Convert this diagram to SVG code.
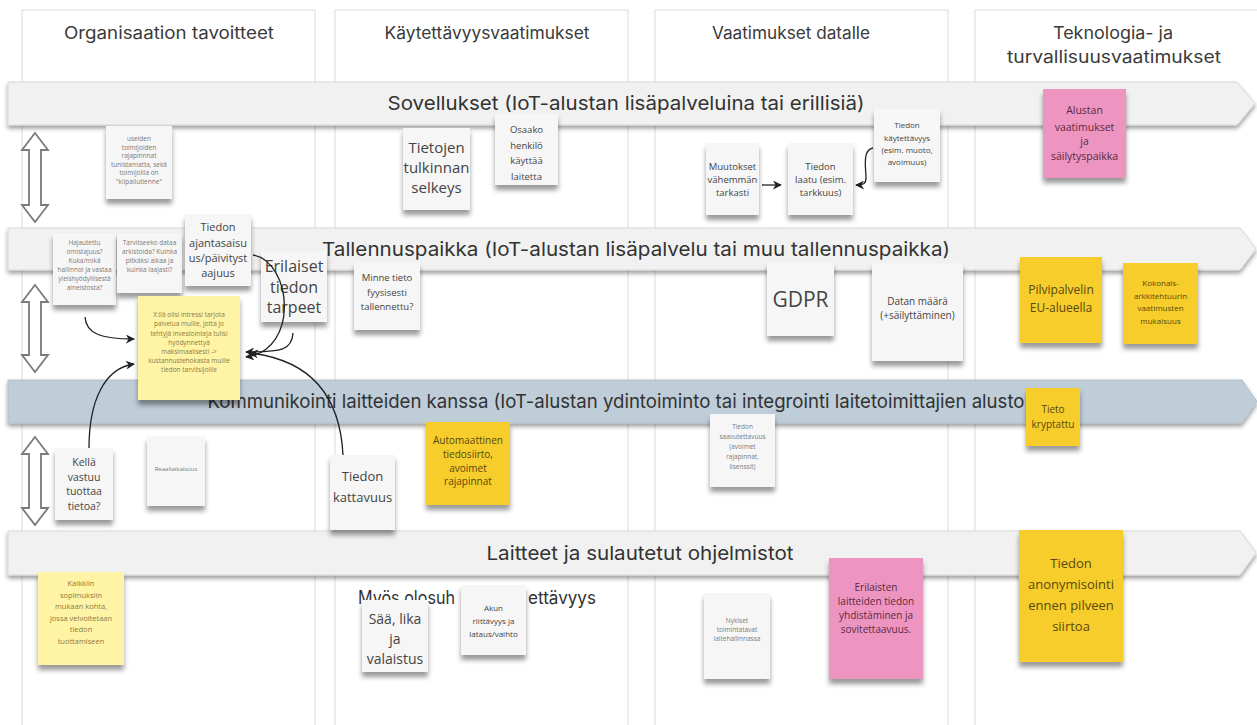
<svg xmlns="http://www.w3.org/2000/svg" width="1257" height="725" viewBox="0 0 1257 725">
<defs>
<filter id="sh" x="-20%" y="-20%" width="140%" height="150%"><feDropShadow dx="0" dy="5" stdDeviation="2.5" flood-color="#000" flood-opacity="0.4"/></filter>
<filter id="bsh" x="-5%" y="-30%" width="110%" height="180%"><feDropShadow dx="0" dy="3" stdDeviation="2" flood-color="#000" flood-opacity="0.38"/></filter>
<marker id="ah" viewBox="0 0 10 10" refX="9" refY="5" markerWidth="9" markerHeight="9" markerUnits="userSpaceOnUse" orient="auto"><path d="M0,0 L10,5 L0,10 L3,5 Z" fill="#222"/></marker>
<style>
.col{fill:#fff;stroke:#e2e2e2;stroke-width:1.2}
.band{fill:#f1f1f1;stroke:#d8d8d8;stroke-width:1;filter:url(#bsh)}
.band3{fill:#bfcdd9;stroke:#b0bfcb}
.hdr{font-family:Inter,"Open Sans",sans-serif;font-size:17px;fill:#3a3a3a;text-anchor:middle}
.bt{font-family:Inter,"Open Sans",sans-serif;font-size:19px;fill:#333;text-anchor:middle}
.s{filter:url(#sh)}
.w{fill:#f6f6f6}
.y1{fill:#fff3a6}
.y2{fill:#f6cd2c}
.pk{fill:#ee94c1}
.t{font-family:"Open Sans",sans-serif;text-anchor:middle;fill:#444}
.tl{font-family:"Open Sans",sans-serif;text-anchor:middle;fill:#7a7a7a}
.ty{font-family:"Open Sans",sans-serif;text-anchor:middle;fill:#8c7c3c}
.td{font-family:"Open Sans",sans-serif;text-anchor:middle;fill:#5a4810}
.tp{font-family:"Open Sans",sans-serif;text-anchor:middle;fill:#5a2a40}
.conn{fill:none;stroke:#222;stroke-width:1.3;marker-end:url(#ah)}
.side{fill:#fff;stroke:#7a7a7a;stroke-width:1.8}
</style>
</defs>
<rect width="1257" height="725" fill="#ffffff"/>

<g id="columns">
<rect class="col" x="22" y="10" width="293" height="730"/>
<rect class="col" x="335" y="10" width="293" height="730"/>
<rect class="col" x="655" y="10" width="293" height="730"/>
<rect class="col" x="975" y="10" width="290" height="730"/>
<text class="hdr" x="169" y="39" textLength="210" lengthAdjust="spacingAndGlyphs">Organisaation tavoitteet</text>
<text class="hdr" x="487" y="39" textLength="205" lengthAdjust="spacingAndGlyphs">Käytettävyysvaatimukset</text>
<text class="hdr" x="791" y="39" textLength="158" lengthAdjust="spacingAndGlyphs">Vaatimukset datalle</text>
<text class="hdr" x="1113" y="39" textLength="120" lengthAdjust="spacingAndGlyphs">Teknologia- ja</text>
<text class="hdr" x="1114" y="63" textLength="214" lengthAdjust="spacingAndGlyphs">turvallisuusvaatimukset</text>
</g>

<g id="bands">
<path class="band" d="M8,82 H1237 L1255,103.5 L1237,125 H8 Z"/>
<text class="bt" x="626" y="110" textLength="477" lengthAdjust="spacingAndGlyphs">Sovellukset (IoT-alustan lisäpalveluina tai erillisiä)</text>
<path class="band" d="M8,228 H1240 L1256,249 L1240,270 H8 Z"/>
<text class="bt" x="636" y="256" textLength="628" lengthAdjust="spacingAndGlyphs">Tallennuspaikka (IoT-alustan lisäpalvelu tai muu tallennuspaikka)</text>
<path class="band band3" d="M8,380 H1242 L1257,401.5 L1242,423 H8 Z"/>
<text class="bt" x="616" y="408" textLength="817" lengthAdjust="spacingAndGlyphs">Kommunikointi laitteiden kanssa (IoT-alustan ydintoiminto tai integrointi laitetoimittajien alusto</text>
<path class="band" d="M8,531 H1240 L1256,553 L1240,575 H8 Z"/>
<text class="bt" x="640" y="560" textLength="307" lengthAdjust="spacingAndGlyphs">Laitteet ja sulautetut ohjelmistot</text>
</g>

<g id="side-arrows">
<path class="side" d="M35,133 L48,150 L41,150 L41,205 L48,205 L35,222 L22,205 L29,205 L29,150 L22,150 Z"/>
<path class="side" d="M35,285 L48,302 L41,302 L41,355 L48,355 L35,372 L22,355 L29,355 L29,302 L22,302 Z"/>
<path class="side" d="M35,437 L48,454 L41,454 L41,508 L48,508 L35,525 L22,508 L29,508 L29,454 L22,454 Z"/>
</g>

<g id="free-text">
<text class="bt" x="358" y="604" style="text-anchor:start;font-size:18px" textLength="97" lengthAdjust="spacingAndGlyphs">Myös olosuh</text>
<text class="bt" x="528" y="604" style="text-anchor:start;font-size:18px" textLength="68" lengthAdjust="spacingAndGlyphs">ettävyys</text>
</g>

<g id="n-useiden"><rect class="s w" x="106" y="126" width="66" height="73"/>
<text class="tl" font-size="6.5"><tspan x="139" y="141">useiden</tspan><tspan x="139" y="149.5">toimijoiden</tspan><tspan x="139" y="158">rajapinnnat</tspan><tspan x="139" y="166.5">tunistamatta, sekä</tspan><tspan x="139" y="175">toimijoilla on</tspan><tspan x="139" y="183.5">"kilpailutienne"</tspan></text></g>

<g id="n-hajautettu"><rect class="s w" x="53" y="233" width="63" height="72"/>
<text class="tl" font-size="6.5"><tspan x="84.5" y="245">Hajautettu</tspan><tspan x="84.5" y="254">omistajuus?</tspan><tspan x="84.5" y="263">Kuka/mikä</tspan><tspan x="84.5" y="272">hallinnoi ja vastaa</tspan><tspan x="84.5" y="281">yleishyödyllisestä</tspan><tspan x="84.5" y="290">aineistosta?</tspan></text></g>

<g id="n-tarvitseeko"><rect class="s w" x="117" y="233" width="65" height="60"/>
<text class="tl" font-size="6.5"><tspan x="149.5" y="245">Tarvitseeko dataa</tspan><tspan x="149.5" y="254">arkistoida? Kuinka</tspan><tspan x="149.5" y="263">pitkäksi aikaa ja</tspan><tspan x="149.5" y="272">kuinka laajasti?</tspan></text></g>

<g id="n-ajantasaisuus"><rect class="s w" x="185" y="214" width="66" height="72"/>
<text class="t" font-size="11"><tspan x="218" y="231">Tiedon</tspan><tspan x="218" y="247">ajantasaisu</tspan><tspan x="218" y="262">us/päivityst</tspan><tspan x="218" y="277">aajuus</tspan></text></g>

<g id="n-erilaiset"><rect class="s w" x="261" y="251" width="66" height="71"/>
<text class="t" font-size="16"><tspan x="294" y="272">Erilaiset</tspan><tspan x="294" y="293">tiedon</tspan><tspan x="294" y="313">tarpeet</tspan></text></g>

<g id="n-xlla"><rect class="s y1" x="138" y="296" width="102" height="104"/>
<text class="ty" font-size="6.5"><tspan x="189" y="317">X:llä olisi intressi tarjota</tspan><tspan x="189" y="326">palvelua muille, jotta jo</tspan><tspan x="189" y="335.5">tehtyjä investointeja tulisi</tspan><tspan x="189" y="344.5">hyödynnettyä</tspan><tspan x="189" y="354">maksimaalisesti -&gt;</tspan><tspan x="189" y="363">kustannustehokasta muille</tspan><tspan x="189" y="372">tiedon tarvitsijoille</tspan></text></g>

<g id="n-kella"><rect class="s w" x="55" y="448" width="58" height="72"/>
<text class="t" font-size="10.5"><tspan x="84" y="466">Kellä</tspan><tspan x="84" y="481">vastuu</tspan><tspan x="84" y="495">tuottaa</tspan><tspan x="84" y="510">tietoa?</tspan></text></g>

<g id="n-reaaliaikaisuus"><rect class="s w" x="147" y="436" width="58" height="70"/>
<text class="tl" font-size="6"><tspan x="176" y="471">Reaaliaikaisuus</tspan></text></g>

<g id="n-kaikkiin"><rect class="s y1" x="38" y="572" width="86" height="93"/>
<text class="ty" font-size="7.5"><tspan x="81" y="586">Kaikkiin</tspan><tspan x="81" y="597.5">sopimuksiin</tspan><tspan x="81" y="609">mukaan kohta,</tspan><tspan x="81" y="620.5">jossa velvoitetaan</tspan><tspan x="81" y="632">tiedon</tspan><tspan x="81" y="643.5">tuottamiseen</tspan></text></g>

<g id="n-tietojen"><rect class="s w" x="403" y="128" width="67" height="82"/>
<text class="t" font-size="15"><tspan x="436.5" y="153">Tietojen</tspan><tspan x="436.5" y="173">tulkinnan</tspan><tspan x="436.5" y="193">selkeys</tspan></text></g>

<g id="n-osaako"><rect class="s w" x="495" y="114" width="63" height="71"/>
<text class="t" font-size="9.5"><tspan x="526.5" y="133">Osaako</tspan><tspan x="526.5" y="149">henkilö</tspan><tspan x="526.5" y="164">käyttää</tspan><tspan x="526.5" y="180">laitetta</tspan></text></g>

<g id="n-minne"><rect class="s w" x="354" y="262" width="66" height="68"/>
<text class="t" font-size="9.5"><tspan x="387" y="281">Minne tieto</tspan><tspan x="387" y="296">fyysisesti</tspan><tspan x="387" y="310">tallennettu?</tspan></text></g>

<g id="n-kattavuus"><rect class="s w" x="330" y="455" width="65" height="75"/>
<text class="t" font-size="13"><tspan x="362.5" y="481">Tiedon</tspan><tspan x="362.5" y="502">kattavuus</tspan></text></g>

<g id="n-automaattinen"><rect class="s y2" x="426" y="422" width="84" height="83"/>
<text class="td" font-size="10"><tspan x="468" y="444">Automaattinen</tspan><tspan x="468" y="458">tiedosiirto,</tspan><tspan x="468" y="472">avoimet</tspan><tspan x="468" y="485">rajapinnat</tspan></text></g>

<g id="n-saa"><rect class="s w" x="362" y="600" width="66" height="72"/>
<text class="t" font-size="14"><tspan x="395" y="624">Sää, lika</tspan><tspan x="395" y="644">ja</tspan><tspan x="395" y="664">valaistus</tspan></text></g>

<g id="n-akun"><rect class="s w" x="461" y="585" width="65" height="70"/>
<text class="t" font-size="8"><tspan x="493.5" y="611">Akun</tspan><tspan x="493.5" y="624">riittävyys ja</tspan><tspan x="493.5" y="637">lataus/vaihto</tspan></text></g>

<g id="n-muutokset"><rect class="s w" x="706" y="143" width="53" height="72"/>
<text class="t" font-size="9.5"><tspan x="732.5" y="170">Muutokset</tspan><tspan x="732.5" y="183">vähemmän</tspan><tspan x="732.5" y="196">tarkasti</tspan></text></g>

<g id="n-laatu"><rect class="s w" x="788" y="143" width="65" height="72"/>
<text class="t" font-size="9.5"><tspan x="820.5" y="170">Tiedon</tspan><tspan x="820.5" y="183">laatu (esim.</tspan><tspan x="820.5" y="196">tarkkuus)</tspan></text></g>

<g id="n-kaytettavyys"><rect class="s w" x="874" y="109" width="66" height="73"/>
<text class="t" font-size="8"><tspan x="907" y="128">Tiedon</tspan><tspan x="907" y="141">käytettävyys</tspan><tspan x="907" y="153">(esim. muoto,</tspan><tspan x="907" y="165">avoimuus)</tspan></text></g>

<g id="n-gdpr"><rect class="s w" x="767" y="262" width="67" height="74"/>
<text class="t" font-size="21"><tspan x="800.5" y="307">GDPR</tspan></text></g>

<g id="n-datan"><rect class="s w" x="872" y="263" width="91" height="98"/>
<text class="t" font-size="10"><tspan x="917.5" y="305">Datan määrä</tspan><tspan x="917.5" y="319">(+säilyttäminen)</tspan></text></g>

<g id="n-saavutettavuus"><rect class="s w" x="710" y="414" width="65" height="73"/>
<text class="tl" font-size="6.5"><tspan x="742.5" y="429">Tiedon</tspan><tspan x="742.5" y="439">saavutettavuus</tspan><tspan x="742.5" y="449">(avoimet</tspan><tspan x="742.5" y="459">rajapinnat,</tspan><tspan x="742.5" y="469">lisenssit)</tspan></text></g>

<g id="n-nykiset"><rect class="s w" x="704" y="593" width="66" height="86"/>
<text class="tl" font-size="6.5"><tspan x="737" y="623">Nykiset</tspan><tspan x="737" y="632">toimintatavat</tspan><tspan x="737" y="641">laitehallinnassa</tspan></text></g>

<g id="n-erilaisten"><rect class="s pk" x="829" y="558" width="94" height="121"/>
<text class="tp" font-size="10"><tspan x="876" y="591">Erilaisten</tspan><tspan x="876" y="605">laitteiden tiedon</tspan><tspan x="876" y="619">yhdistäminen ja</tspan><tspan x="876" y="633">sovitettaavuus.</tspan></text></g>

<g id="n-alustan"><rect class="s pk" x="1043" y="89" width="83" height="89"/>
<text class="tp" font-size="10.5"><tspan x="1084.5" y="114">Alustan</tspan><tspan x="1084.5" y="131">vaatimukset</tspan><tspan x="1084.5" y="145">ja</tspan><tspan x="1084.5" y="160">säilytyspaikka</tspan></text></g>

<g id="n-pilvipalvelin"><rect class="s y2" x="1020" y="257" width="82" height="86"/>
<text class="td" font-size="12"><tspan x="1061" y="294">Pilvipalvelin</tspan><tspan x="1061" y="312">EU-alueella</tspan></text></g>

<g id="n-kokonais"><rect class="s y2" x="1123" y="263" width="75" height="81"/>
<text class="td" font-size="8"><tspan x="1160.5" y="286">Kokonais-</tspan><tspan x="1160.5" y="299">arkkitehtuurin</tspan><tspan x="1160.5" y="311">vaatimusten</tspan><tspan x="1160.5" y="324">mukaisuus</tspan></text></g>

<g id="n-kryptattu"><rect class="s y2" x="1026" y="388" width="54" height="58"/>
<text class="td" font-size="10"><tspan x="1053" y="413">Tieto</tspan><tspan x="1053" y="428">kryptattu</tspan></text></g>

<g id="n-anonymisointi"><rect class="s y2" x="1019" y="530" width="104" height="132"/>
<text class="td" font-size="13"><tspan x="1071" y="568">Tiedon</tspan><tspan x="1071" y="589">anonymisointi</tspan><tspan x="1071" y="610">ennen pilveen</tspan><tspan x="1071" y="631">siirtoa</tspan></text></g>

<g id="connectors">
<path class="conn" d="M85,317 C86,333 100,339 134,339"/>
<path class="conn" d="M89,448 C89,400 105,368 134,364"/>
<path class="conn" d="M253,255 C292,262 300,350 246,357"/>
<path class="conn" d="M293,333 C292,350 282,352 246,352"/>
<path class="conn" d="M343,455 C340,395 310,360 250,353"/>
<path class="conn" d="M762,185 L781,185"/>
<path class="conn" d="M873,148 C862,150 866,168 866,178 C866,184 863,185 856,185"/>
</g>
</svg>
